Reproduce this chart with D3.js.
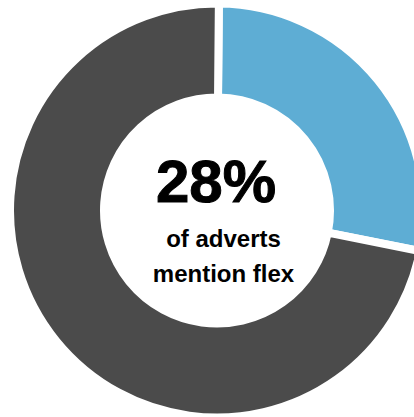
<!DOCTYPE html>
<html>
<head>
<meta charset="utf-8">
<script src="https://cdn.jsdelivr.net/npm/d3@7"></script>
<style>
  html, body { margin: 0; padding: 0; background: #ffffff; }
  svg { display: block; }
</style>
</head>
<body>
<script>
// Share of job adverts that mention flexible working
const categories = ["Mention flex", "Do not mention flex"];
const values = [28, 72];
const colors = ["#5eadd4", "#4b4b4b"];
const headline = "28%";
const captionLines = ["of adverts", "mention flex"];

const width = 414, height = 417;
const cx = 217, cy = 210.5;
const gapWidth = 8;
// radii include half the white separator stroke, which paints over the ring edges
const outerR = 203 + gapWidth / 2, innerR = 117 - gapWidth / 2;

const svg = d3.select("body").append("svg")
  .attr("width", width)
  .attr("height", height);

const pie = d3.pie()
  .sort(null)
  .value(d => d)
  .startAngle(0.009)
  .endAngle(0.009 + 2 * Math.PI);

const arc = d3.arc()
  .innerRadius(innerR)
  .outerRadius(outerR);

const color = d3.scaleOrdinal().domain(categories).range(colors);

const g = svg.append("g").attr("transform", `translate(${cx},${cy})`);

g.selectAll("path")
  .data(pie(values))
  .join("path")
  .attr("d", arc)
  .attr("fill", (d, i) => color(categories[i]))
  .attr("stroke", "#ffffff")
  .attr("stroke-width", gapWidth)
  .attr("stroke-linejoin", "miter");

// Centre label
const label = svg.append("g")
  .attr("font-family", "'Liberation Sans', Arial, sans-serif")
  .attr("font-weight", "bold")
  .attr("fill", "#000000")
  .attr("text-anchor", "middle");

label.append("text")
  .attr("x", 216)
  .attr("y", 201.5)
  .attr("font-size", 60)
  .attr("stroke", "#000000")
  .attr("stroke-width", 1)
  .text(headline);

label.selectAll("text.caption")
  .data(captionLines)
  .join("text")
  .attr("class", "caption")
  .attr("x", 223.5)
  .attr("y", (d, i) => 246.5 + i * 35)
  .attr("font-size", 24)
  .text(d => d);
</script>
</body>
</html>
